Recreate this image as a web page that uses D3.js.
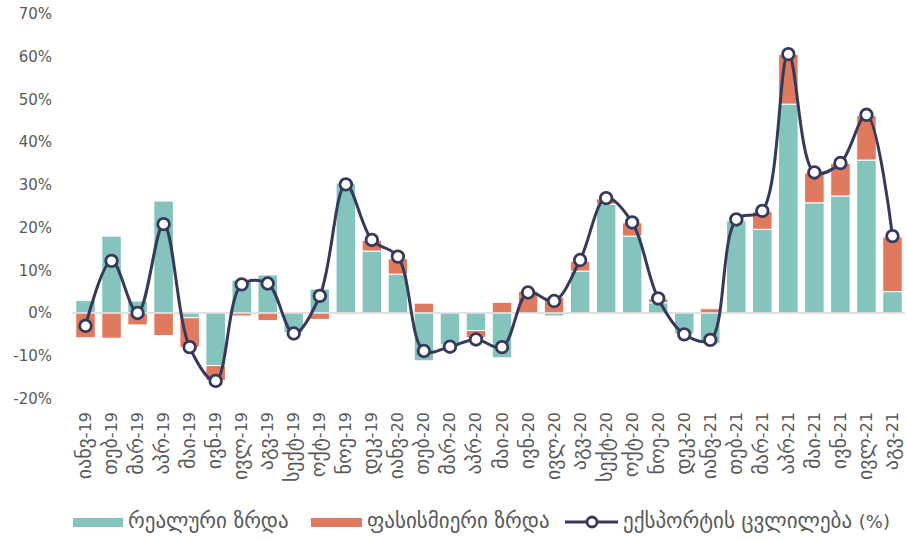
<!DOCTYPE html>
<html>
<head>
<meta charset="utf-8">
<script src="https://cdn.jsdelivr.net/npm/d3@7"></script>
<style>
  body { margin: 0; background: #fff; }
  text { font-family: "DejaVu Sans", sans-serif; }
</style>
</head>
<body>
<div id="chart"></div>
<script>
// months (x axis)
const months = [
  "იანვ-19", "თებ-19", "მარ-19", "აპრ-19", "მაი-19", "ივნ-19", "ივლ-19", "აგვ-19",
  "სექტ-19", "ოქტ-19", "ნოე-19", "დეკ-19", "იანვ-20", "თებ-20", "მარ-20", "აპრ-20",
  "მაი-20", "ივნ-20", "ივლ-20", "აგვ-20", "სექტ-20", "ოქტ-20", "ნოე-20", "დეკ-20",
  "იანვ-21", "თებ-21", "მარ-21", "აპრ-21", "მაი-21", "ივნ-21", "ივლ-21", "აგვ-21"
];
// real growth (%)
const realGrowth = [
  2.9, 18.0, 2.8, 26.2, -1.1, -12.3, 7.7, 8.9,
  -4.6, 5.6, 30.4, 14.5, 9.1, -11.2, -7.5, -4.1,
  -10.5, -0.2, -0.7, 9.8, 25.5, 18.0, 2.4, -4.9,
  -7.1, 21.6, 19.6, 48.9, 25.8, 27.4, 35.8, 5.0
];
// price growth (%)
const priceGrowth = [
  -5.8, -5.9, -2.8, -5.3, -6.9, -3.5, -0.7, -1.8,
  -0.2, -1.5, -0.3, 2.5, 3.6, 2.3, -0.4, -1.7,
  2.5, 5.1, 3.7, 2.3, 1.2, 3.1, 0.9, -0.2,
  1.0, 0.3, 4.1, 11.6, 7.0, 7.6, 10.4, 12.8
];
// export change (%)
const exportChange = [
  -3.0, 12.2, 0.0, 20.8, -8.0, -15.9, 6.7, 6.9,
  -4.8, 4.0, 30.1, 17.1, 13.2, -8.9, -7.9, -6.2,
  -8.0, 4.8, 2.8, 12.4, 26.9, 21.2, 3.4, -5.0,
  -6.3, 21.9, 23.9, 60.6, 32.9, 35.1, 46.4, 18.0
];
const yTicks = [-20, -10, 0, 10, 20, 30, 40, 50, 60, 70];

const width = 907, height = 541;
const colors = { real: "#84c4bc", price: "#e07a5f", line: "#363a5a" };

// georgian glyphs render small in DejaVu, so give them a bigger size than latin/digits
function richText(sel, str, geoSize, latSize) {
  const runs = str.match(/[\u10A0-\u10FF ]+|[^\u10A0-\u10FF ]+/g) || [];
  runs.forEach(r => {
    sel.append("tspan")
      .style("font-size", /[\u10A0-\u10FF]/.test(r) ? geoSize + "px" : latSize + "px")
      .text(r);
  });
}

const svg = d3.select("#chart").append("svg")
  .attr("width", width)
  .attr("height", height);

const x = d3.scaleBand()
  .domain(months)
  .range([72.5, 905.5])
  .paddingInner(0.25)
  .paddingOuter(0.125);

const y = d3.scaleLinear()
  .domain([-20, 70])
  .range([398.4, 14]);

const rows = months.map((m, i) => ({ month: m, real: realGrowth[i], price: priceGrowth[i] }));
const series = d3.stack()
  .keys(["real", "price"])
  .offset(d3.stackOffsetDiverging)(rows);

// y axis labels
svg.append("g")
  .selectAll("text")
  .data(yTicks)
  .join("text")
  .attr("x", 52)
  .attr("y", d => y(d))
  .attr("dy", "0.35em")
  .attr("text-anchor", "end")
  .attr("fill", "#595959")
  .style("font-size", "15px")
  .text(d => d + "%");

// bars
svg.append("g")
  .selectAll("g")
  .data(series)
  .join("g")
  .attr("fill", d => colors[d.key])
  .selectAll("rect")
  .data(d => d)
  .join("rect")
  .attr("x", d => x(d.data.month))
  .attr("width", x.bandwidth())
  .attr("y", d => y(Math.max(d[0], d[1])))
  .attr("height", d => Math.abs(y(d[0]) - y(d[1])))
  .attr("stroke", "#fff")
  .attr("stroke-width", 1);

// zero line
svg.append("line")
  .attr("x1", 72).attr("x2", 905)
  .attr("y1", y(0)).attr("y2", y(0))
  .attr("stroke", "#d9d9d9")
  .attr("stroke-width", 1.5);

// x axis labels
svg.append("g")
  .selectAll("text")
  .data(months)
  .join("text")
  .attr("transform", d => `translate(${x(d) + x.bandwidth() / 2 + 5.5}, 412) rotate(-90)`)
  .attr("text-anchor", "end")
  .attr("fill", "#595959")
  .each(function (d) { richText(d3.select(this), d, 20, 16); });

// export change line
const line = d3.line()
  .x((d, i) => x(months[i]) + x.bandwidth() / 2)
  .y(d => y(d))
  .curve(d3.curveCatmullRom.alpha(0.5));

svg.append("path")
  .datum(exportChange)
  .attr("fill", "none")
  .attr("stroke", colors.line)
  .attr("stroke-width", 3)
  .attr("d", line);

svg.append("g")
  .selectAll("circle")
  .data(exportChange)
  .join("circle")
  .attr("cx", (d, i) => x(months[i]) + x.bandwidth() / 2)
  .attr("cy", d => y(d))
  .attr("r", 5.8)
  .attr("fill", "#fff")
  .attr("stroke", colors.line)
  .attr("stroke-width", 2.8);

// legend
const legend = svg.append("g").attr("fill", "#595959");
legend.append("rect").attr("x", 73).attr("y", 518).attr("width", 50).attr("height", 9).attr("fill", colors.real);
legend.append("text").attr("x", 128).attr("y", 528)
  .call(s => richText(s, "რეალური ზრდა", 21, 18));
legend.append("rect").attr("x", 311).attr("y", 518).attr("width", 51).attr("height", 9).attr("fill", colors.price);
legend.append("text").attr("x", 367).attr("y", 528)
  .call(s => richText(s, "ფასისმიერი ზრდა", 21, 18));
legend.append("line").attr("x1", 565).attr("x2", 618).attr("y1", 522).attr("y2", 522)
  .attr("stroke", colors.line).attr("stroke-width", 3);
legend.append("circle").attr("cx", 592).attr("cy", 522).attr("r", 5)
  .attr("fill", "#fff").attr("stroke", colors.line).attr("stroke-width", 2.8);
legend.append("text").attr("x", 623).attr("y", 528)
  .call(s => richText(s, "ექსპორტის ცვლილება (%)", 21, 18));
</script>
</body>
</html>
